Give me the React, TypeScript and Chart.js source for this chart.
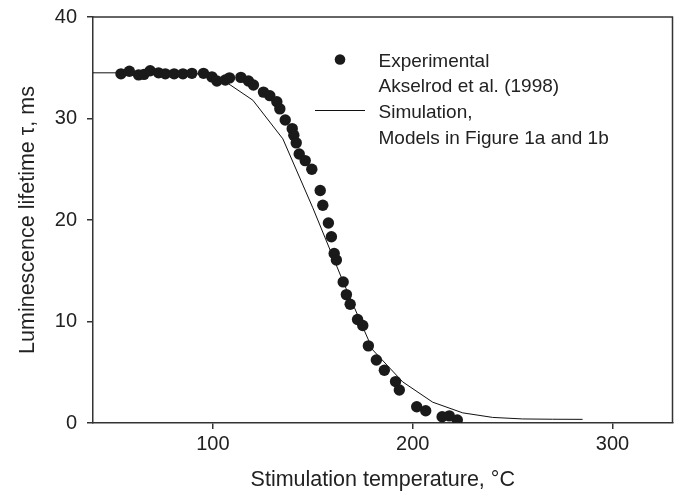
import React, { useEffect, useRef } from "react";
import { Chart, registerables } from "chart.js";

Chart.register(...registerables);

// Experimental lifetimes (Akselrod et al., 1998)
const expTemp = [
  54, 58.2, 62.8, 65.5, 68.6, 72.8, 76.2, 80.6, 85, 89.5, 95.3, 99.5, 102, 106.2, 108.3,
  114, 117.8, 120.3, 125.3, 128.5, 132, 133.5, 136.2, 139.7, 140.5, 141.7, 143.2, 146.2,
  149.5, 153.7, 155, 157.8, 159.3, 160.7, 161.8, 165.2, 166.8, 168.7, 172.4, 175, 177.8,
  181.8, 185.8, 191.4, 193.3, 202, 206.5, 214.7, 218.3, 222.3,
];
const expTau = [
  34.4, 34.65, 34.3, 34.35, 34.7, 34.5, 34.4, 34.4, 34.4, 34.45, 34.45, 34.1, 33.7, 33.8, 34.0,
  34.05, 33.7, 33.3, 32.6, 32.25, 31.65, 30.95, 29.85, 29.0, 28.35, 27.6, 26.5, 25.85,
  25.0, 22.9, 21.45, 19.7, 18.35, 16.7, 16.05, 13.9, 12.65, 11.7, 10.2, 9.6, 7.6,
  6.2, 5.2, 4.08, 3.25, 1.6, 1.2, 0.62, 0.7, 0.3,
];

// Simulated lifetimes (models in Figure 1a and 1b)
const simTemp = [40, 90, 105, 120, 135, 150, 165, 180, 195, 210, 225, 240, 255, 270, 285];
const simTau = [34.5, 34.5, 33.8, 31.8, 28.0, 21.2, 14.0, 7.2, 4.05, 2.05, 1.0, 0.55, 0.4, 0.37, 0.36];

const xTicks = [100, 200, 300];
const yTicks = [0, 10, 20, 30, 40];

const xTitle = "Stimulation temperature, °C";
const yTitle = "Luminescence lifetime τ, ms";
const legendExp = ["Experimental", "Akselrod et al. (1998)"];
const legendSim = ["Simulation,", "Models in Figure 1a and 1b"];

const FONT = "'Liberation Sans', Arial, Helvetica, sans-serif";
const INK = "#222";
const AXIS = "#333";

const decorations = {
  id: "decorations",
  afterDraw(chart: any) {
    const { ctx, chartArea } = chart;
    const { left, right, top, bottom } = chartArea;
    ctx.save();
    // top and right frame lines
    ctx.strokeStyle = AXIS;
    ctx.lineWidth = 1.5;
    ctx.beginPath();
    ctx.moveTo(left, top);
    ctx.lineTo(right, top);
    ctx.lineTo(right, bottom);
    ctx.stroke();

    // axis titles
    ctx.fillStyle = INK;
    ctx.font = `21.5px ${FONT}`;
    ctx.textAlign = "center";
    ctx.textBaseline = "alphabetic";
    ctx.fillText(xTitle, (left + right) / 2, 486);
    ctx.save();
    ctx.translate(33.5, (top + bottom) / 2);
    ctx.rotate(-Math.PI / 2);
    ctx.fillText(yTitle, 0, 0);
    ctx.restore();

    // legend
    ctx.font = `19px ${FONT}`;
    ctx.textAlign = "left";
    const tx = 378.5;
    ctx.fillText(legendExp[0], tx, 66.5);
    ctx.fillText(legendExp[1], tx, 92);
    ctx.fillText(legendSim[0], tx, 118);
    ctx.fillText(legendSim[1], tx, 143.5);
    ctx.fillStyle = "#1a1a1a";
    ctx.beginPath();
    ctx.arc(340, 59.5, 5.3, 0, Math.PI * 2);
    ctx.fill();
    ctx.strokeStyle = "#111";
    ctx.lineWidth = 1;
    ctx.beginPath();
    ctx.moveTo(315, 110.5);
    ctx.lineTo(365, 110.5);
    ctx.stroke();
    ctx.restore();
  },
};

export default function App() {
  const ref = useRef<HTMLCanvasElement>(null);

  useEffect(() => {
    document.body.style.margin = "0";
    const canvas = ref.current;
    if (!canvas) return;
    const chart = new Chart(canvas, {
      type: "scatter",
      data: {
        datasets: [
          {
            label: "Experimental",
            data: expTemp.map((x, i) => ({ x, y: expTau[i] })),
            backgroundColor: "#1a1a1a",
            borderColor: "#1a1a1a",
            pointRadius: 5.7,
            pointBorderWidth: 0,
            showLine: false,
            order: 0,
          },
          {
            label: "Simulation",
            type: "line",
            data: simTemp.map((x, i) => ({ x, y: simTau[i] })),
            borderColor: "#111",
            borderWidth: 1,
            pointRadius: 0,
            tension: 0,
            fill: false,
            order: 1,
          } as any,
        ],
      },
      options: {
        responsive: false,
        animation: false,
        devicePixelRatio: 1,
        layout: { padding: { top: 17, right: 6.5, left: 0, bottom: 0 } },
        plugins: { legend: { display: false }, tooltip: { enabled: false } },
        scales: {
          x: {
            type: "linear",
            min: 40,
            max: 330,
            afterBuildTicks: (s: any) => {
              s.ticks = xTicks.map((v) => ({ value: v }));
            },
            afterFit: (s: any) => {
              s.height = 68;
              s.paddingLeft = 0;
              s.paddingRight = 0;
            },
            grid: { drawOnChartArea: false, drawTicks: true, tickLength: 6, color: AXIS, lineWidth: 1.5 },
            border: { display: true, color: AXIS, width: 1.5 },
            ticks: { color: INK, font: { family: FONT, size: 20 }, padding: 3, maxRotation: 0 },
          },
          y: {
            type: "linear",
            min: 0,
            max: 40,
            afterBuildTicks: (s: any) => {
              s.ticks = yTicks.map((v) => ({ value: v }));
            },
            afterFit: (s: any) => {
              s.width = 93;
              s.paddingTop = 0;
              s.paddingBottom = 0;
            },
            grid: { drawOnChartArea: false, drawTicks: true, tickLength: 6, color: AXIS, lineWidth: 1.5 },
            border: { display: true, color: AXIS, width: 1.5 },
            ticks: { color: INK, font: { family: FONT, size: 20 }, padding: 10 },
          },
        },
      },
      plugins: [decorations],
    });
    return () => chart.destroy();
  }, []);

  return (
    <div style={{ width: 679, height: 491, background: "#fff" }}>
      <canvas ref={ref} width={679} height={491} style={{ display: "block" }} />
    </div>
  );
}
